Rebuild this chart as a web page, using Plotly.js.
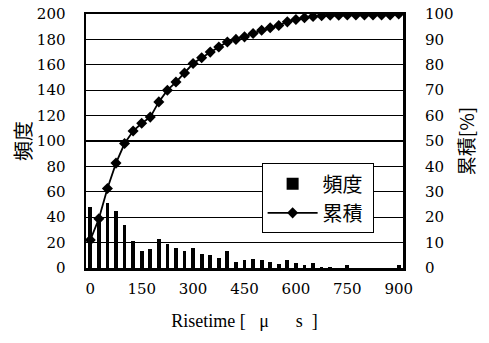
<!DOCTYPE html>
<html>
<head>
<meta charset="utf-8">
<script src="https://cdn.plot.ly/plotly-3.0.1.min.js"></script>
<style>
  html, body { margin: 0; padding: 0; background: #fff; }
  #chart { width: 489px; height: 343px; }
</style>
</head>
<body>
<div id="chart"></div>
<script>
// Rise-time bins [µs]
const riseTime = [0, 25, 50, 75, 100, 125, 150, 175, 200, 225, 250, 275, 300,
  325, 350, 375, 400, 425, 450, 475, 500, 525, 550, 575, 600, 625, 650, 675,
  700, 725, 750, 775, 800, 825, 850, 875, 900];

// Counts per bin (頻度)
const frequency = [48, 36, 51, 45, 34, 21, 13, 15, 23, 19, 16, 13, 16,
  11, 10, 8, 13, 5, 6, 7, 6, 5, 3, 6, 4, 2, 4, 1,
  1, 0, 2, 0, 0, 0, 0, 0, 2];

// Cumulative share [%] (累積)
const cumulative = [11, 19.4, 31.3, 41.3, 49, 53.9, 57, 59.4, 65.4, 70, 73.2, 76.8, 80.5,
  82.8, 85, 87, 89, 90, 91, 92.3, 93.6, 94.6, 95.5, 96.9, 97.8, 98.5, 99, 99.3,
  99.5, 99.5, 99.6, 99.6, 99.6, 99.6, 99.6, 99.6, 100];

const xTicks = [0, 150, 300, 450, 600, 750, 900];
const freqTicks = [0, 20, 40, 60, 80, 100, 120, 140, 160, 180, 200];
const cumTicks = [0, 10, 20, 30, 40, 50, 60, 70, 80, 90, 100];

const tickFamily = '"DejaVu Serif", "Liberation Serif", serif';
const serif = '"Liberation Serif", "Noto Sans CJK JP", serif';
const cjk = '"Noto Sans CJK JP", "Liberation Serif", sans-serif';
const nb = '\u00A0';

const traces = [
  {
    type: 'bar',
    name: '頻度' + nb,
    x: riseTime,
    y: frequency,
    width: 11,
    marker: { color: '#000', line: { color: '#000', width: 0 } },
    yaxis: 'y',
    legendgroup: 'a'
  },
  {
    type: 'scatter',
    mode: 'lines+markers',
    name: '累積' + nb,
    x: riseTime,
    y: cumulative,
    line: { color: '#000', width: 1.8 },
    marker: { symbol: 'diamond', size: 8.5, color: '#000' },
    yaxis: 'y2',
    legendgroup: 'b'
  }
];

const layout = {
  width: 489,
  height: 343,
  margin: { l: 86, r: 86, t: 14, b: 75 },
  paper_bgcolor: '#fff',
  plot_bgcolor: '#fff',
  showlegend: true,
  bargap: 0,
  xaxis: {
    range: [-12.5, 912.5],
    tickvals: xTicks,
    ticktext: xTicks.map(String),
    ticks: 'outside',
    ticklen: 5,
    tickcolor: 'rgba(0,0,0,0)',
    showgrid: false,
    zeroline: false,
    showline: true,
    mirror: true,
    linecolor: '#000',
    linewidth: 2.5,
    tickfont: { family: tickFamily, size: 15, color: '#000' },
    title: {
      text: 'Risetime' + nb + '[' + nb + nb + nb + 'μ' + nb + nb + nb + nb + nb + nb + 's' + nb + nb + ']',
      font: { family: serif, size: 18, color: '#000' },
      standoff: 18
    }
  },
  yaxis: {
    range: [0, 200],
    tickvals: freqTicks,
    ticks: 'outside',
    ticklen: 15,
    tickcolor: 'rgba(0,0,0,0)',
    showgrid: true,
    gridcolor: '#000',
    gridwidth: 1.2,
    zeroline: false,
    showline: true,
    mirror: true,
    linecolor: '#000',
    linewidth: 2.5,
    tickfont: { family: tickFamily, size: 15, color: '#000' },
    title: {
      text: '頻度',
      font: { family: cjk, size: 20, color: '#000' },
      standoff: 0
    }
  },
  yaxis2: {
    range: [0, 100],
    tickvals: cumTicks,
    overlaying: 'y',
    side: 'right',
    ticks: 'outside',
    ticklen: 18,
    tickcolor: 'rgba(0,0,0,0)',
    showgrid: false,
    zeroline: false,
    showline: false,
    tickfont: { family: tickFamily, size: 15, color: '#000' },
    title: {
      text: '累積[%]',
      font: { family: cjk, size: 19, color: '#000' },
      standoff: 8
    }
  },
  legend: {
    x: 0.554,
    y: 0.412,
    xanchor: 'left',
    yanchor: 'top',
    bgcolor: '#fff',
    bordercolor: '#000',
    borderwidth: 1,
    itemwidth: 50,
    tracegroupgap: 0,
    traceorder: 'grouped',
    font: { family: cjk, size: 20, color: '#000' }
  }
};

Plotly.newPlot('chart', traces, layout, { displayModeBar: false, staticPlot: true });
</script>
</body>
</html>
